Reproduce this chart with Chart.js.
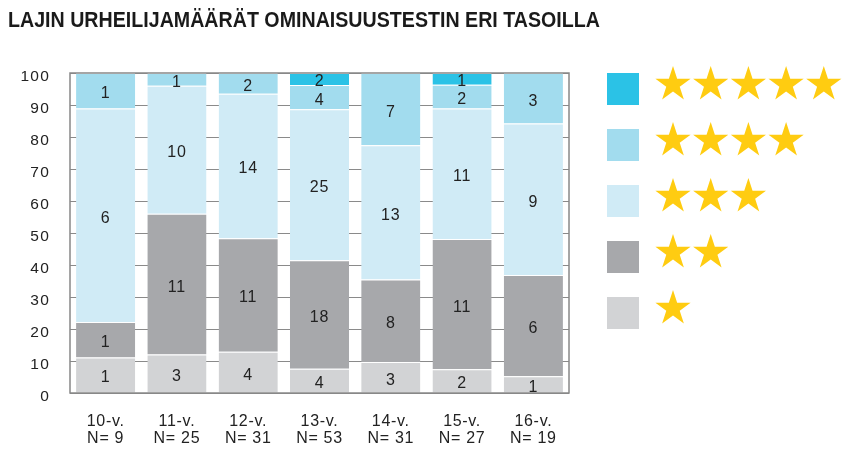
<!DOCTYPE html>
<html>
<head>
<meta charset="utf-8">
<script src="https://cdn.jsdelivr.net/npm/chart.js@4.4.1/dist/chart.umd.min.js"></script>
<style>
  html, body { margin: 0; padding: 0; background: #fff; }
  #wrap { width: 844px; height: 455px; }
</style>
</head>
<body>
<div id="wrap"><canvas id="chart" width="844" height="455"></canvas></div>
<script>
// Luvut kuvasta: urheilijamäärät tasoittain (1-5 tähteä)
const chartTitle = 'LAJIN URHEILIJAMÄÄRÄT OMINAISUUSTESTIN ERI TASOILLA';
const ageGroups = ['10-v.', '11-v.', '12-v.', '13-v.', '14-v.', '15-v.', '16-v.'];
const groupTotals = [9, 25, 31, 53, 31, 27, 19];
const stars1 = [1, 3, 4, 4, 3, 2, 1];
const stars2 = [1, 11, 11, 18, 8, 11, 6];
const stars3 = [6, 10, 14, 25, 13, 11, 9];
const stars4 = [1, 1, 2, 4, 7, 2, 3];
const stars5 = [0, 0, 0, 2, 0, 1, 0];
const levelColors = ['#d2d3d5', '#a7a8ab', '#d0ebf6', '#a2dcee', '#2bc2e6'];
const yTickValues = [0, 10, 20, 30, 40, 50, 60, 70, 80, 90, 100];

const FONT = '"Liberation Sans", Arial, sans-serif';
const TEXT = '#222';

// prosenttiosuudet ryhmän koosta
function toPercent(counts) {
    return counts.map((c, i) => c / groupTotals[i] * 100);
}

const levels = [stars1, stars2, stars3, stars4, stars5];
const datasets = levels.map((counts, i) => ({
    label: (i + 1) + ' tähteä',
    data: toPercent(counts),
    counts: counts,
    backgroundColor: levelColors[i],
    borderColor: '#ffffff',
    borderWidth: { top: 1, left: 0, right: 0, bottom: 0 },
    borderSkipped: 'start',
    barPercentage: 0.83,
    categoryPercentage: 1
}));

// otsikko + kirjainväli
const titlePlugin = {
    id: 'titleText',
    beforeDraw(chart) {
        const ctx = chart.ctx;
        ctx.letterSpacing = '0.7px';
        ctx.save();
        ctx.letterSpacing = '0px';
        ctx.font = 'bold 21.5px ' + FONT;
        ctx.fillStyle = '#1a1a1a';
        ctx.textBaseline = 'alphabetic';
        ctx.textAlign = 'left';
        ctx.fillText(chartTitle, 8, 26.5, 592);
        ctx.restore();
    }
};

// kehys, y-akselin luvut ja lukumäärät palkkien päällä
const barLabels = {
    id: 'barLabels',
    afterDatasetsDraw(chart) {
        const ctx = chart.ctx;
        const a = chart.chartArea;
        ctx.save();
        ctx.strokeStyle = '#888';
        ctx.lineWidth = 1.5;
        ctx.strokeRect(a.left, a.top, a.right - a.left, a.bottom - a.top);

        const yScale = chart.scales.y;
        ctx.font = '15.5px ' + FONT;
        ctx.letterSpacing = '1.2px';
        ctx.fillStyle = TEXT;
        ctx.textAlign = 'right';
        ctx.textBaseline = 'middle';
        yTickValues.forEach(v => {
            ctx.fillText(String(v), a.left - 20, yScale.getPixelForValue(v) + 4);
        });

        ctx.font = '16px ' + FONT;
        ctx.letterSpacing = '0.8px';
        ctx.textAlign = 'center';
        chart.data.datasets.forEach((ds, di) => {
            const meta = chart.getDatasetMeta(di);
            meta.data.forEach((bar, i) => {
                const n = ds.counts[i];
                if (!n) return;
                const y = (bar.y + bar.base) / 2 + 3;
                ctx.fillText(String(n), bar.x, y);
            });
        });
        ctx.restore();
    }
};

function drawStar(ctx, cx, cy, r) {
    const inner = r * 0.382;
    ctx.beginPath();
    for (let k = 0; k < 10; k++) {
        const ang = -Math.PI / 2 + k * Math.PI / 5;
        const rr = k % 2 === 0 ? r : inner;
        const px = cx + rr * Math.cos(ang);
        const py = cy + rr * Math.sin(ang);
        if (k === 0) ctx.moveTo(px, py); else ctx.lineTo(px, py);
    }
    ctx.closePath();
    ctx.fill();
}

// selite: värineliö + tähdet
const starLegend = {
    id: 'starLegend',
    afterDraw(chart) {
        const ctx = chart.ctx;
        const dsets = chart.data.datasets;
        ctx.save();
        for (let di = dsets.length - 1; di >= 0; di--) {
            const row = dsets.length - 1 - di;
            const top = 73 + row * 56;
            ctx.fillStyle = dsets[di].backgroundColor;
            ctx.fillRect(607, top, 32, 32);
            ctx.fillStyle = '#ffcc11';
            for (let s = 0; s <= di; s++) {
                drawStar(ctx, 673 + s * 37.7, top + 11.5, 18.5);
            }
        }
        ctx.restore();
    }
};

new Chart(document.getElementById('chart'), {
    type: 'bar',
    data: {
        labels: ageGroups.map((g, i) => [g, 'N= ' + groupTotals[i]]),
        datasets: datasets
    },
    options: {
        responsive: false,
        devicePixelRatio: 1,
        animation: false,
        layout: { padding: { top: 73, right: 275, left: 0, bottom: 0 } },
        plugins: {
            legend: { display: false },
            tooltip: { enabled: false },
            title: { display: false }
        },
        scales: {
            x: {
                stacked: true,
                grid: { display: false, drawTicks: false },
                border: { display: false },
                ticks: {
                    color: TEXT,
                    font: { family: FONT, size: 16, lineHeight: 1.1 },
                    padding: 19.5,
                    maxRotation: 0,
                    autoSkip: false
                },
                afterFit(scale) { scale.height = 62; }
            },
            y: {
                stacked: true,
                min: 0,
                max: 100,
                afterBuildTicks(scale) {
                    scale.ticks = yTickValues.map(v => ({ value: v }));
                },
                grid: { color: '#8a8a8a', lineWidth: 1, drawTicks: false },
                border: { display: false },
                ticks: { display: false },
                afterFit(scale) { scale.width = 70; }
            }
        }
    },
    plugins: [titlePlugin, barLabels, starLegend]
});
</script>
</body>
</html>
